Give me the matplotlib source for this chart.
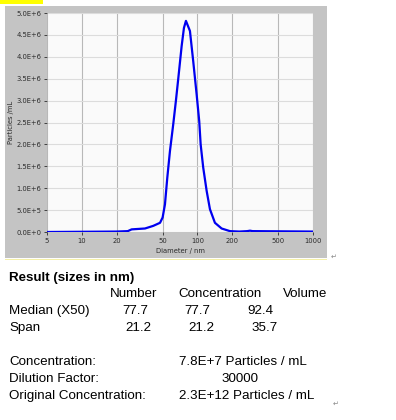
import matplotlib
matplotlib.use('Agg')
import matplotlib.pyplot as plt
from matplotlib.patches import Rectangle
from matplotlib.ticker import FixedLocator, NullLocator
import numpy as np

# size distribution
diameter = [5, 20, 25, 27, 35.2, 41.5, 47.5, 50, 52.4, 54.9, 57.9, 61.8, 65.2, 68.3,
            73.1, 76.5, 79.6, 86.2, 92, 98.5, 103.7, 106.7, 112.3, 120.2, 128.4,
            141.8, 162, 191, 230, 270, 285, 300, 1000]
particles = [0, 0.01, 0.02, 0.06, 0.08, 0.14, 0.21, 0.33, 0.63, 1.24, 1.85, 2.46, 3.0, 3.5,
             4.25, 4.66, 4.82, 4.59, 3.9, 3.14, 2.53, 2.0, 1.47, 0.94, 0.52,
             0.21, 0.08, 0.02, 0.01, 0.02, 0.03, 0.02, 0.01]
particles = [p * 1e6 for p in particles]

x_ticks = [5, 10, 20, 50, 100, 200, 500, 1000]
x_ticklabels = ["5", "10", "20", "50", "100", "200", "500", "1000"]
y_ticks = [i * 0.5e6 for i in range(11)]
y_ticklabels = ["0.0E+0", "5.0E+5", "1.0E+6", "1.5E+6", "2.0E+6", "2.5E+6",
                "3.0E+6", "3.5E+6", "4.0E+6", "4.5E+6", "5.0E+6"]

result_cols = ["Number", "Concentration", "Volume"]
median_vals = ["77.7", "77.7", "92.4"]
span_vals = ["21.2", "21.2", "35.7"]
info_labels = ["Concentration:", "Dilution Factor:", "Original Concentration:"]
info_values = ["7.8E+7 Particles / mL", "30000", "2.3E+12 Particles / mL"]

W, H = 396, 420
fig = plt.figure(figsize=(W / 100, H / 100), dpi=100)
fig.patch.set_facecolor('white')


def fx(x):
    return x / W


def fy(y):
    return 1 - y / H


# grey chart panel + yellow marker
fig.patches.append(Rectangle((fx(5), fy(258)), fx(322), 252 / H, transform=fig.transFigure,
                             facecolor='#c4c4c4', edgecolor='none', zorder=-2))
fig.patches.append(Rectangle((fx(5), fy(260)), fx(322), 1.5 / H, transform=fig.transFigure,
                             facecolor='#f4f0a8', edgecolor='none', zorder=-2))
fig.patches.append(Rectangle((0, fy(4)), fx(43), 4 / H, transform=fig.transFigure,
                             facecolor='#ffff00', edgecolor='none', zorder=-2))

ax = fig.add_axes([fx(47), fy(232), fx(266), 219 / H])
ax.set_zorder(1)
ax.set_facecolor('#fafafa')
ax.plot(diameter, particles, color='#0000f0', lw=1.6, zorder=3)
ax.set_xscale('log')
ax.set_xlim(5, 1000)
ax.set_ylim(0, 5e6)
ax.xaxis.set_major_locator(FixedLocator(x_ticks))
ax.xaxis.set_minor_locator(NullLocator())
ax.set_xticklabels(x_ticklabels)
ax.set_yticks(y_ticks)
ax.set_yticklabels(y_ticklabels)
ax.tick_params(axis='both', labelsize=4.9, colors='#2a2a2a', length=2.5, width=0.6, pad=1.5)
ax.tick_params(axis='x', pad=2)
ax.grid(axis='x', color='#b8b8b8', lw=0.8)
ax.grid(axis='y', color='#dcdcdc', lw=0.8)
for s in ax.spines.values():
    s.set_visible(False)
ax.set_xlabel("Diameter / nm", fontsize=4.9, color='#2a2a2a', labelpad=3)
ax.set_ylabel("Particles /mL", fontsize=4.9, color='#2a2a2a', labelpad=2)

# results block
fnt = dict(family='Liberation Sans', fontsize=9.6, color='black', va='center')
fig.text(fx(9), fy(277.5), "Result (sizes in nm)", fontweight='bold', **fnt)
for x, t in zip([110, 178, 283], result_cols):
    fig.text(fx(x), fy(294.3), t, **fnt)
fig.text(fx(9), fy(311), "Median (X50)", **fnt)
fig.text(fx(9), fy(327.7), "Span", **fnt)
for x, t in zip([122, 184, 247], median_vals):
    fig.text(fx(x), fy(311), t, **fnt)
for x, t in zip([125, 188, 251], span_vals):
    fig.text(fx(x), fy(327.7), t, **fnt)
for y, lab, val, vx in zip([362.3, 379, 395.7], info_labels, info_values, [179, 221, 179]):
    fig.text(fx(9), fy(y), lab, **fnt)
    fig.text(fx(vx), fy(y), val, **fnt)

# paragraph marks
fig.text(fx(331), fy(257), "\u21b5", fontsize=5, color='#888888', va='center')
fig.text(fx(333), fy(404), "\u21b5", fontsize=5, color='#888888', va='center')

fig.savefig("out.png", dpi=100)
